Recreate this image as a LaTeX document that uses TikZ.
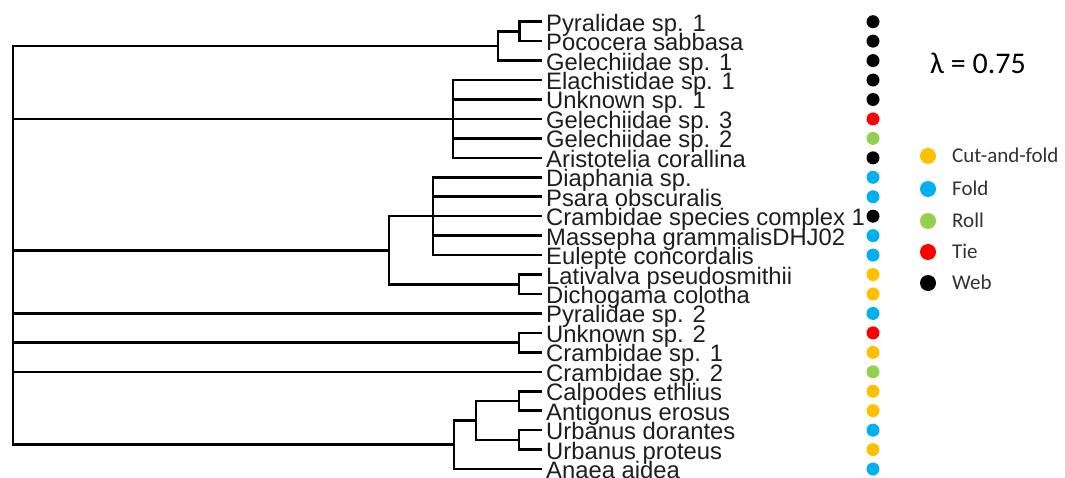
\documentclass[tikz,border=0pt]{standalone}
\usepackage{fontspec}
\setmainfont{Liberation Sans}
\newfontfamily\calfont{Carlito}
\definecolor{cutfold}{HTML}{FFC000}
\definecolor{foldc}{HTML}{00B0F0}
\definecolor{rollc}{HTML}{92D050}
\definecolor{tiec}{HTML}{FF0000}
\definecolor{webc}{HTML}{000000}
\definecolor{labc}{HTML}{1E1E1E}
\definecolor{legc}{HTML}{333333}
\begin{document}
\begin{tikzpicture}[x=1pt,y=-1pt,
  branch/.style={line width=2.6pt, line join=miter, draw=black},
  leaflab/.style={inner sep=0pt, anchor=base west, text=labc, font=\fontsize{23.8}{23.8}\selectfont},
  dot/.style={circle, inner sep=0pt, minimum size=13pt, draw=none},
  legdot/.style={circle, inner sep=0pt, minimum size=16pt, draw=none},
  leglab/.style={inner sep=0pt, anchor=base west, text=legc, font=\calfont\fontsize{21}{21}\selectfont}]
\useasboundingbox (0,0) rectangle (1065,478);
\fill[white] (0,0) rectangle (1065,478);
% leaves
\foreach \i/\col/\lab in {
 0/webc/{Pyralidae sp. 1},
 1/webc/{Pococera sabbasa},
 2/webc/{Gelechiidae sp. 1},
 3/webc/{Elachistidae sp. 1},
 4/webc/{Unknown sp. 1},
 5/tiec/{Gelechiidae sp. 3},
 6/rollc/{Gelechiidae sp. 2},
 7/webc/{Aristotelia corallina},
 8/foldc/{Diaphania sp.},
 9/foldc/{Psara obscuralis},
 10/webc/{Crambidae species complex 1},
 11/foldc/{Massepha grammalisDHJ02},
 12/foldc/{Eulepte concordalis},
 13/cutfold/{Lativalva pseudosmithii},
 14/cutfold/{Dichogama colotha},
 15/foldc/{Pyralidae sp. 2},
 16/tiec/{Unknown sp. 2},
 17/cutfold/{Crambidae sp. 1},
 18/rollc/{Crambidae sp. 2},
 19/cutfold/{Calpodes ethlius},
 20/cutfold/{Antigonus erosus},
 21/foldc/{Urbanus dorantes},
 22/cutfold/{Urbanus proteus},
 23/foldc/{Anaea aidea}} {
  \coordinate (l\i) at (542, {21.7+19.45*\i});
  \node[leaflab] (t\i) at (546, {21.7+19.45*\i+9.5}) {\lab};
  \node[dot, fill=\col] (p\i) at (873, {21.7+19.45*\i}) {};
}
% internal nodes
\coordinate (a1) at (519.5, 31.4);
\coordinate (a2) at (498, 46);
\coordinate (b) at (453, 118.95);
\coordinate (c1) at (433, 216.2);
\coordinate (c2) at (519, 284.3);
\coordinate (c3) at (389, 250.25);
\coordinate (d) at (519, 342.6);
\coordinate (e1) at (519, 401);
\coordinate (e2) at (519, 439.9);
\coordinate (e3) at (476, 420.4);
\coordinate (e4) at (454, 444.7);
\coordinate (root) at (13, 246);
% branches
\draw[branch] (l0) -| (a1) |- (l1);
\draw[branch] (a1) -| (a2) |- (l2);
\draw[branch] (l3) -| (b) |- (l7);
\draw[branch] (b) |- (l4);
\draw[branch] (b) |- (l5);
\draw[branch] (b) |- (l6);
\draw[branch] (l8) -| (c1) |- (l12);
\draw[branch] (c1) |- (l9);
\draw[branch] (c1) |- (l10);
\draw[branch] (c1) |- (l11);
\draw[branch] (l13) -| (c2) |- (l14);
\draw[branch] (c1) -| (c3) |- (c2);
\draw[branch] (l16) -| (d) |- (l17);
\draw[branch] (l19) -| (e1) |- (l20);
\draw[branch] (l21) -| (e2) |- (l22);
\draw[branch] (e1) -| (e3) |- (e2);
\draw[branch] (e3) -| (e4) |- (l23);
\draw[branch] (a2) -| (root) |- (e4);
\draw[branch] (root) |- (b);
\draw[branch] (root) |- (c3);
\draw[branch] (root) |- (l15);
\draw[branch] (root) |- (d);
\draw[branch] (root) |- (l18);
% legend
\node[inner sep=0pt, text=black, font=\calfont\fontsize{30}{30}\selectfont] (lambda) at (978, 63) {λ = 0.75};
\foreach \k/\col/\lab/\yy in {1/cutfold/Cut-and-fold/156, 2/foldc/Fold/189, 3/rollc/Roll/221, 4/tiec/Tie/252, 5/webc/Web/283} {
  \node[legdot, fill=\col] (ld\k) at (928, \yy) {};
  \node[leglab] (lt\k) at (952, \yy+6.5) {\lab};
}
\end{tikzpicture}
\end{document}
